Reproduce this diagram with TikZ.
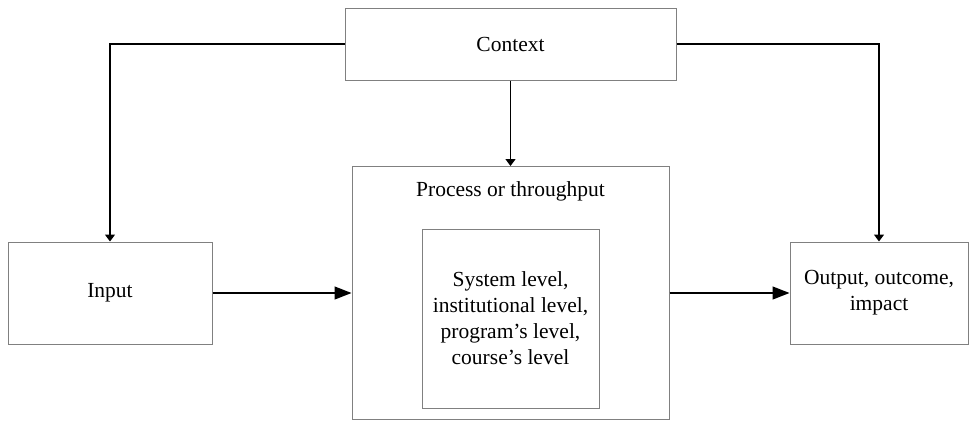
\documentclass[tikz,border=0pt]{standalone}
\usepackage{fontspec}
\setmainfont{Liberation Serif}
\usepackage{tikz}
\usetikzlibrary{arrows.meta}

\begin{document}
\begin{tikzpicture}[x=1pt,y=-1pt]
\tikzstyle{box}=[draw=black!50,line width=1pt,inner sep=0pt,align=center,font=\fontsize{21.5}{26}\selectfont]
\tikzstyle{label}=[inner sep=0pt,font=\fontsize{21.5}{26}\selectfont]
\tikzstyle{flow}=[line width=1.3pt,-{Triangle[length=17pt,width=13pt]}]
\tikzstyle{feed}=[line width=1.3pt,-{Triangle[length=7pt,width=10pt]}]
\useasboundingbox (0,0) rectangle (969,421);
\node[box,minimum width=331pt,minimum height=72pt] (context) at (510.5,44) {Context};
\node[box,minimum width=317pt,minimum height=253pt] (process) at (510.5,293) {};
\node[label] (title) at (510.5,191) {Process or throughput};
\node[box,minimum width=177pt,minimum height=179pt] (levels) at (510.5,318.5) {System level,\\institutional level,\\program's level,\\course's level};
\node[box,minimum width=204pt,minimum height=102pt] (input) at (110,293) {Input};
\node[box,minimum width=178pt,minimum height=102pt] (output) at (879,293) {Output, outcome,\\impact};
\draw[feed] (context.west) -| (input.north);
\draw[feed] (context.east) -| (output.north);
\draw[feed] (context.south) -- (process.north);
\draw[flow] (input.east) -- (process.west);
\draw[flow] (process.east) -- (output.west);
\end{tikzpicture}
\end{document}
